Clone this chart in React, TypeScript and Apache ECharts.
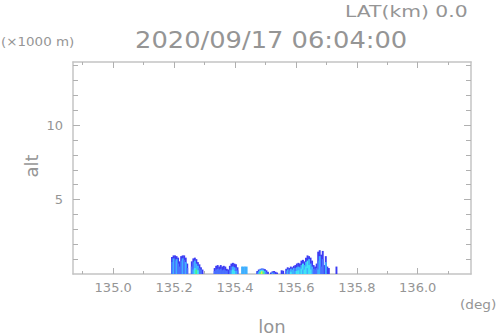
import React, { useEffect, useRef } from "react";
import * as echarts from "echarts";

// ---- Data ----
const X_MAJOR = [135.0, 135.2, 135.4, 135.6, 135.8, 136.0];
const X_MINOR = [134.9, 135.1, 135.3, 135.5, 135.7, 135.9, 136.1];
const Y_MAJOR = [5, 10];
const Y_MINOR = [1, 2, 3, 4, 6, 7, 8, 9, 11, 12, 13, 14];

// column left-edge longitudes (deg)
const colLon = [
  135.19, 135.195, 135.2, 135.205, 135.21, 135.215, 135.22, 135.225, 135.23, 135.235, 135.24,
  135.255, 135.26, 135.265, 135.27, 135.275, 135.28, 135.285, 135.29,
  135.33, 135.335, 135.34, 135.345, 135.35, 135.355, 135.36, 135.365, 135.37, 135.375, 135.38,
  135.385, 135.39, 135.395, 135.4, 135.405,
  135.42, 135.425, 135.43, 135.435,
  135.47, 135.475, 135.48, 135.485, 135.49, 135.495, 135.5, 135.505,
  135.515, 135.52, 135.525, 135.53, 135.535,
  135.55, 135.555,
  135.565, 135.57, 135.575, 135.58, 135.585, 135.59, 135.595, 135.6, 135.605, 135.61,
  135.615, 135.62, 135.625, 135.63, 135.635, 135.64, 135.645, 135.65, 135.655, 135.66,
  135.665, 135.67, 135.675, 135.68, 135.685, 135.69, 135.695, 135.7, 135.705, 135.73,
];
// echo top of weakest level (km) and its level
const bodyTop = [
  1.15, 1.25, 1.25, 1.2, 1.1, 0.85, 1.2, 1.25, 1.25, 1.1, 0.7,
  0.85, 1.05, 1.1, 1.0, 0.8, 0.65, 0.45, 0.3,
  0.4, 0.55, 0.6, 0.5, 0.6, 0.5, 0.55, 0.5, 0.35, 0.3, 0.55,
  0.7, 0.75, 0.7, 0.65, 0.45,
  0.5, 0.5, 0.5, 0.5,
  0.2, 0.3, 0.35, 0.38, 0.37, 0.33, 0.25, 0.15,
  0.1, 0.18, 0.2, 0.15, 0.1,
  0.25, 0.22,
  0.35, 0.45, 0.4, 0.5, 0.45, 0.55, 0.6, 0.7, 0.75, 0.7,
  0.9, 0.95, 0.85, 1.1, 1.25, 1.2, 1.1, 0.9, 0.6, 0.5,
  0.7, 1.5, 1.6, 1.3, 1.55, 0.6, 1.2, 0.5, 0.4, 0.5,
];
const bodyLvl = [
  0, 0, 0, 0, 0, 0, 0, 0, 0, 0, 0,
  0, 0, 0, 0, 0, 0, 0, 0,
  0, 0, 0, 0, 0, 0, 0, 0, 0, 0, 0,
  0, 0, 0, 0, 0,
  2, 2, 2, 2,
  0, 0, 1, 1, 1, 0, 0, 0,
  0, 0, 0, 0, 0,
  0, 0,
  0, 0, 0, 0, 0, 0, 0, 0, 0, 0,
  0, 0, 0, 0, 0, 0, 0, 0, 0, 0,
  0, 0, 0, 0, 0, 0, 0, 0, 0, 0,
];
const midTop = [
  0.8, 1.05, 0.9, 1.0, 0.7, 0.5, 0.9, 1.05, 0.95, 0.8, 0.4,
  0.5, 0.8, 0.9, 0.7, 0.55, 0.4, 0.3, 0,
  0.2, 0.3, 0.35, 0.3, 0.35, 0.25, 0.3, 0.25, 0.2, 0, 0.3,
  0.5, 0.5, 0.45, 0.4, 0.25,
  0, 0, 0, 0,
  0.1, 0.18, 0.25, 0.28, 0.25, 0.2, 0.12, 0,
  0, 0.1, 0.1, 0, 0,
  0, 0,
  0.2, 0.3, 0.25, 0.35, 0.3, 0.4, 0.4, 0.45, 0.5, 0.45,
  0.6, 0.7, 0.6, 0.8, 0.9, 1.0, 0.7, 0.5, 0.35, 0.3,
  0.4, 0.9, 1.2, 0.5, 1.0, 0, 0.8, 0, 0, 0,
];
const midLvl = [
  1, 2, 1, 2, 1, 1, 1, 2, 1, 2, 1,
  1, 1, 2, 2, 2, 1, 1, 0,
  1, 1, 1, 1, 1, 1, 1, 1, 1, 0, 1,
  1, 2, 2, 1, 1,
  0, 0, 0, 0,
  1, 2, 3, 3, 3, 2, 1, 0,
  0, 2, 1, 0, 0,
  0, 0,
  1, 2, 1, 2, 2, 2, 1, 2, 2, 2,
  2, 3, 2, 2, 3, 2, 2, 2, 1, 1,
  1, 1, 2, 1, 1, 0, 2, 0, 0, 0,
];
const coreTop = [
  0, 0, 0, 0, 0, 0, 0, 0, 0, 0, 0,
  0, 0.3, 0.4, 0.3, 0.25, 0, 0, 0,
  0, 0, 0, 0, 0, 0, 0, 0, 0, 0, 0,
  0.25, 0.3, 0.2, 0.2, 0,
  0, 0, 0, 0,
  0, 0, 0.12, 0.18, 0.15, 0, 0, 0,
  0, 0, 0, 0, 0,
  0, 0,
  0, 0, 0, 0.15, 0, 0, 0.2, 0.2, 0.25, 0,
  0.35, 0.3, 0.3, 0.5, 0.4, 0.6, 0.3, 0, 0, 0,
  0, 0.3, 0, 0, 0, 0, 0, 0, 0, 0,
];
const coreLvl = [
  0, 0, 0, 0, 0, 0, 0, 0, 0, 0, 0,
  0, 2, 3, 4, 3, 0, 0, 0,
  0, 0, 0, 0, 0, 0, 0, 0, 0, 0, 0,
  2, 3, 3, 2, 0,
  0, 0, 0, 0,
  0, 0, 4, 5, 4, 0, 0, 0,
  0, 0, 0, 0, 0,
  0, 0,
  0, 0, 0, 3, 0, 0, 2, 3, 3, 0,
  3, 2, 3, 3, 2, 3, 3, 0, 0, 0,
  0, 2, 0, 0, 0, 0, 0, 0, 0, 0,
];

// ---- Styling ----
const LEVEL_COLORS = ["#3c3cf4", "#4a72ff", "#3fb0ff", "#40e4f4", "#4cf488", "#e0f040"];
const COL_STEP = 0.005;
const X_MIN = 134.868;
const X_MAX = 136.175;
const Y_MIN = 0;
const Y_MAX = 14.25;
const TEXT = "#959595";
const FRAME = "#c4c4c4";
const FONT = "DejaVu Sans";

function buildCells() {
  const out: number[][] = [];
  for (let i = 0; i < colLon.length; i++) {
    out.push([colLon[i], bodyTop[i], bodyLvl[i]]);
  }
  for (let i = 0; i < colLon.length; i++) {
    if (midTop[i] > 0) out.push([colLon[i], midTop[i], midLvl[i]]);
  }
  for (let i = 0; i < colLon.length; i++) {
    if (coreTop[i] > 0) out.push([colLon[i], coreTop[i], coreLvl[i]]);
  }
  return out;
}

export default function App() {
  const ref = useRef<HTMLDivElement>(null);
  useEffect(() => {
    if (!ref.current) return;
    const chart = echarts.init(ref.current, null, { renderer: "svg" });
    const line = { color: FRAME, width: 1.5 };
    const tick = { color: "#b0b0b0", width: 1 };
    const xAx = (pos: string, vals: number[], len: number, showLine: boolean, labels: boolean) => ({
      type: "value",
      min: X_MIN,
      max: X_MAX,
      position: pos,
      axisLine: { show: showLine, onZero: false, lineStyle: line },
      axisTick: { show: true, inside: true, length: len, customValues: vals, lineStyle: tick },
      axisLabel: labels
        ? {
            show: true,
            customValues: vals,
            formatter: (v: number) => v.toFixed(1),
            color: TEXT,
            fontSize: 13,
            fontFamily: FONT,
            margin: 7,
          }
        : { show: false },
      splitLine: { show: false },
    });
    const yAx = (pos: string, vals: number[], len: number, showLine: boolean, labels: boolean) => ({
      type: "value",
      min: Y_MIN,
      max: Y_MAX,
      position: pos,
      axisLine: { show: showLine, onZero: false, lineStyle: line },
      axisTick: { show: true, inside: true, length: len, customValues: vals, lineStyle: tick },
      axisLabel: labels
        ? {
            show: true,
            customValues: vals,
            formatter: (v: number) => String(v),
            color: TEXT,
            fontSize: 13,
            fontFamily: FONT,
            margin: 10,
          }
        : { show: false },
      splitLine: { show: false },
    });
    chart.setOption({
      animation: false,
      backgroundColor: "#ffffff",
      grid: { left: 73, top: 62, width: 398, height: 212, containLabel: false },
      xAxis: [
        xAx("bottom", X_MAJOR, 6, true, true),
        xAx("bottom", X_MINOR, 3, false, false),
        xAx("top", X_MAJOR, 6, true, false),
        xAx("top", X_MINOR, 3, false, false),
      ],
      yAxis: [
        yAx("left", Y_MAJOR, 7, true, true),
        yAx("left", Y_MINOR, 5, false, false),
        yAx("right", Y_MAJOR, 7, true, false),
        yAx("right", Y_MINOR, 5, false, false),
      ],
      series: [
        {
          type: "custom",
          xAxisIndex: 0,
          yAxisIndex: 0,
          clip: true,
          data: buildCells(),
          renderItem: (params: any, api: any) => {
            const x0 = api.value(0);
            const h = api.value(1);
            const lvl = api.value(2);
            const p0 = api.coord([x0, 0]);
            const p1 = api.coord([x0 + COL_STEP, h]);
            return {
              type: "rect",
              shape: { x: p0[0], y: p1[1], width: p1[0] - p0[0] + 0.4, height: p0[1] - p1[1] },
              style: { fill: LEVEL_COLORS[lvl] },
            };
          },
        },
      ],
      graphic: [
        {
          type: "text",
          x: 345,
          y: 11,
          scaleX: 1.27,
          style: { text: "LAT(km) 0.0", fill: TEXT, font: `16px "${FONT}"`, align: "left", verticalAlign: "middle" },
        },
        {
          type: "text",
          x: 135,
          y: 40,
          scaleX: 1.12,
          style: { text: "2020/09/17 06:04:00", fill: TEXT, font: `23px "${FONT}"`, align: "left", verticalAlign: "middle" },
        },
        {
          type: "text",
          x: 1,
          y: 42,
          scaleX: 1.12,
          style: { text: "(×1000 m)", fill: TEXT, font: `12px "${FONT}"`, align: "left", verticalAlign: "middle" },
        },
        {
          type: "text",
          x: 460,
          y: 305,
          scaleX: 1.05,
          style: { text: "(deg)", fill: TEXT, font: `13px "${FONT}"`, align: "left", verticalAlign: "middle" },
        },
        {
          type: "text",
          x: 272,
          y: 326,
          style: { text: "lon", fill: TEXT, font: `18px "${FONT}"`, align: "center", verticalAlign: "middle" },
        },
        {
          type: "text",
          x: 31,
          y: 166,
          rotation: Math.PI / 2,
          style: { text: "alt", fill: TEXT, font: `18px "${FONT}"`, align: "center", verticalAlign: "middle" },
        },
      ],
    });
    return () => chart.dispose();
  }, []);
  return (
    <div
      ref={ref}
      style={{ position: "fixed", left: 0, top: 0, width: 498, height: 336, background: "#fff" }}
    />
  );
}
